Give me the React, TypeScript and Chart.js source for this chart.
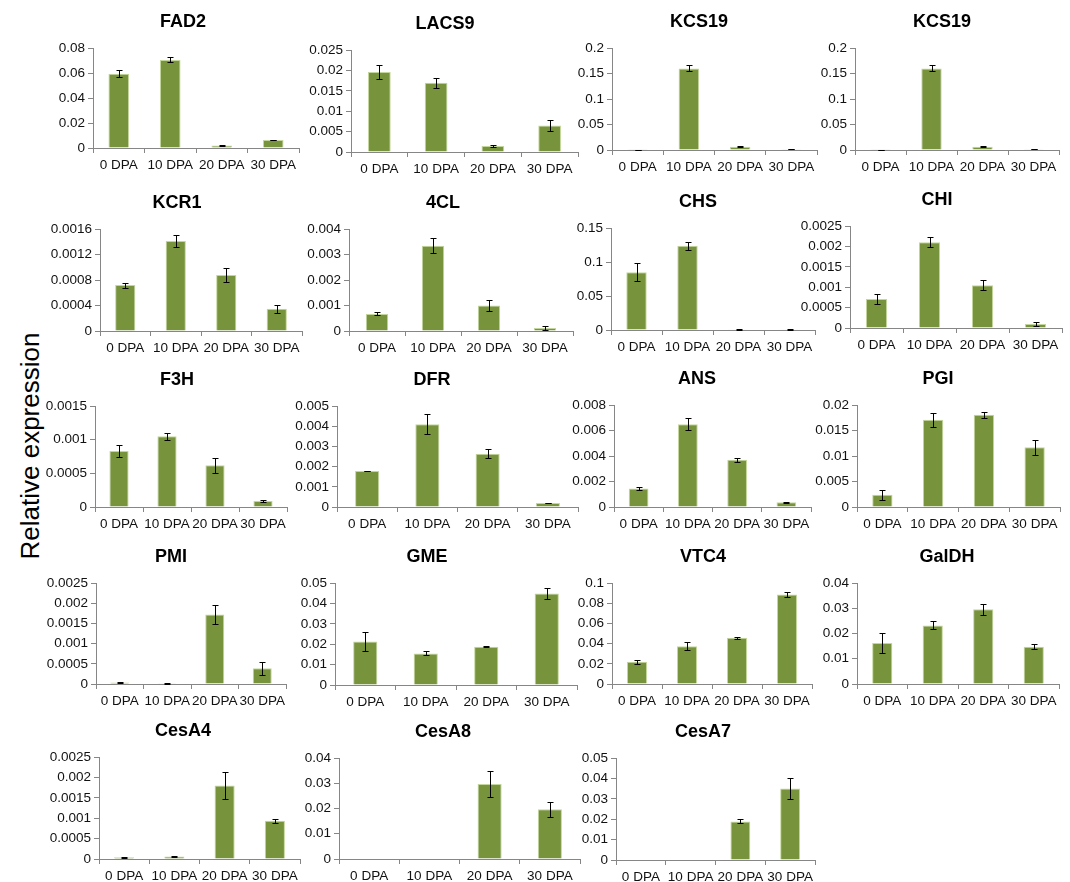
import React, { useEffect, useRef } from "react";
import { Chart, registerables } from "chart.js";

Chart.register(...registerables);
Chart.defaults.font.family = '"Liberation Sans", Arial, sans-serif';

// ---------- DATA ----------
const categories = ["0 DPA", "10 DPA", "20 DPA", "30 DPA"];

const genes = [
  "FAD2", "LACS9", "KCS19", "KCS19",
  "KCR1", "4CL", "CHS", "CHI",
  "F3H", "DFR", "ANS", "PGI",
  "PMI", "GME", "VTC4", "GalDH",
  "CesA4", "CesA8", "CesA7",
];

// mean relative expression per gene (0, 10, 20, 30 DPA)
const meanValues = [
  [0.0595, 0.0705, 0.0021, 0.0064],
  [0.0196, 0.017, 0.0015, 0.0065],
  [0.0003, 0.16, 0.0065, 0.0015],
  [0.0003, 0.16, 0.0065, 0.0015],
  [0.00072, 0.00141, 0.00088, 0.00035],
  [0.00067, 0.00334, 0.001, 0.00012],
  [0.085, 0.124, 0.001, 0.001],
  [0.00071, 0.0021, 0.00105, 0.0001],
  [0.00083, 0.00105, 0.00062, 0.00009],
  [0.00178, 0.0041, 0.00263, 0.0002],
  [0.00145, 0.0065, 0.0037, 0.00038],
  [0.0024, 0.0171, 0.0181, 0.0117],
  [0.00004, 0.00002, 0.00172, 0.00039],
  [0.0213, 0.0155, 0.0188, 0.0449],
  [0.022, 0.0375, 0.0457, 0.0885],
  [0.0162, 0.0232, 0.0296, 0.0148],
  [0.00004, 0.00006, 0.0018, 0.00094],
  [0, 0, 0.0297, 0.0197],
  [0, 0, 0.0189, 0.0351],
];

// error (± SD) per gene
const errValues = [
  [0.003, 0.002, 0.0003, 0.0003],
  [0.0017, 0.0012, 0.0002, 0.0013],
  [0.0002, 0.006, 0.001, 0.0005],
  [0.0002, 0.006, 0.001, 0.0005],
  [0.00004, 0.00009, 0.00011, 0.00006],
  [0.00006, 0.0003, 0.0002, 0.00007],
  [0.013, 0.006, 0.0004, 0.0004],
  [0.00012, 0.00012, 0.00013, 0.00004],
  [0.000085, 0.00005, 0.00011, 0.00001],
  [0.00002, 0.00048, 0.00022, 0.00002],
  [0.00012, 0.00046, 0.00014, 0.00003],
  [0.001, 0.0014, 0.0006, 0.0015],
  [0.00001, 0.00001, 0.00023, 0.00016],
  [0.0047, 0.001, 0.0004, 0.0027],
  [0.0022, 0.0037, 0.0013, 0.0028],
  [0.0039, 0.0016, 0.0022, 0.001],
  [0.00002, 0.00002, 0.00033, 0.00005],
  [0, 0, 0.005, 0.003],
  [0, 0, 0.001, 0.0052],
];

// y axis maximum and tick step per gene
const yMax = [
  0.08, 0.025, 0.2, 0.2,
  0.0016, 0.004, 0.15, 0.0025,
  0.0015, 0.005, 0.008, 0.02,
  0.0025, 0.05, 0.1, 0.04,
  0.0025, 0.04, 0.05,
];
const yStep = [
  0.02, 0.005, 0.05, 0.05,
  0.0004, 0.001, 0.05, 0.0005,
  0.0005, 0.001, 0.002, 0.005,
  0.0005, 0.01, 0.02, 0.01,
  0.0005, 0.01, 0.01,
];

const yAxisTitle = "Relative expression";

// ---------- LAYOUT (plot box: left, right, top, bottom, title centre x) ----------
const plotBoxes = [
  [93, 299, 48, 148, 183],
  [351, 578, 50, 152, 445],
  [612, 817, 48, 150, 699],
  [855, 1059, 48, 150, 942],
  [100, 302, 229, 331, 177],
  [349, 573, 229, 331, 443],
  [611, 815, 228, 330, 698],
  [850, 1062, 226, 328, 937],
  [95, 287, 406, 507, 177],
  [337, 578, 406, 507, 432],
  [614, 811, 405, 507, 697],
  [857, 1060, 405, 507, 938],
  [96, 286, 583, 684, 171],
  [335, 577, 583, 685, 427],
  [612, 812, 583, 684, 703],
  [857, 1059, 583, 684, 947],
  [99, 300, 757, 859, 183],
  [339, 580, 758, 859, 443],
  [616, 815, 758, 860, 703],
];

const PAD_L = 70;
const PAD_T = 45;
const PAD_R = 14;
const PAD_B = 30;

const FONT = '"Liberation Sans", Arial, sans-serif';
const AXIS_COLOR = "#868686";
const BAR_COLOR = "#77933C";
const BAR_EDGE = "#C3D69B";
const TEXT_COLOR = "#111111";

function fmt(v: number): string {
  return parseFloat(v.toFixed(6)).toString();
}

function Panel({ idx }: { idx: number }) {
  const ref = useRef<HTMLCanvasElement>(null);
  const [l, r, t, b, tx] = plotBoxes[idx];
  const w = r - l + PAD_L + PAD_R;
  const h = b - t + PAD_T + PAD_B;

  useEffect(() => {
    if (!ref.current) return;
    const vals = meanValues[idx];
    const errs = errValues[idx];
    const title = genes[idx];

    const errPlugin = {
      id: "errbars" + idx,
      afterDatasetsDraw(chart: any) {
        const meta = chart.getDatasetMeta(0);
        const ys = chart.scales.y;
        const ctx = chart.ctx;
        ctx.save();
        ctx.strokeStyle = "#000";
        ctx.lineWidth = 1;
        meta.data.forEach((bar: any, i: number) => {
          const e = errs[i];
          if (!e) return;
          const v = vals[i];
          const x = Math.round(bar.x) + 0.5;
          const y1 = Math.round(ys.getPixelForValue(v + e)) + 0.5;
          const y2 = Math.round(ys.getPixelForValue(Math.max(v - e, 0))) + 0.5;
          ctx.beginPath();
          ctx.moveTo(x, y1);
          ctx.lineTo(x, y2);
          ctx.moveTo(x - 3, y1);
          ctx.lineTo(x + 3, y1);
          ctx.moveTo(x - 3, y2);
          ctx.lineTo(x + 3, y2);
          ctx.stroke();
        });
        ctx.restore();
      },
    };

    const titlePlugin = {
      id: "ptitle" + idx,
      afterDraw(chart: any) {
        const ctx = chart.ctx;
        ctx.save();
        ctx.font = "bold 18px " + FONT;
        ctx.fillStyle = "#000";
        ctx.textAlign = "center";
        ctx.textBaseline = "middle";
        ctx.fillText(title, tx - (l - PAD_L), PAD_T - 26);
        ctx.restore();
      },
    };

    const chart = new Chart(ref.current, {
      type: "bar",
      data: {
        labels: categories,
        datasets: [
          {
            data: vals,
            backgroundColor: BAR_COLOR,
            borderColor: BAR_EDGE,
            borderWidth: 1,
            barPercentage: 0.4,
            categoryPercentage: 1,
          },
        ],
      },
      options: {
        responsive: false,
        animation: false,
        devicePixelRatio: 1,
        layout: { padding: { left: 0, top: PAD_T, right: PAD_R, bottom: 0 } },
        plugins: {
          legend: { display: false },
          tooltip: { enabled: false },
          title: { display: false },
        },
        scales: {
          x: {
            grid: {
              display: true,
              drawOnChartArea: false,
              drawTicks: true,
              tickLength: 5,
              color: AXIS_COLOR,
              offset: true,
            },
            border: { display: true, color: AXIS_COLOR, width: 1 },
            ticks: {
              color: TEXT_COLOR,
              font: { size: 13.5, family: FONT },
              padding: 4,
              maxRotation: 0,
              minRotation: 0,
              autoSkip: false,
            },
            afterFit: (s: any) => {
              s.height = PAD_B;
            },
          },
          y: {
            min: 0,
            max: yMax[idx],
            grid: {
              display: true,
              drawOnChartArea: false,
              drawTicks: true,
              tickLength: 5,
              color: AXIS_COLOR,
            },
            border: { display: true, color: AXIS_COLOR, width: 1 },
            ticks: {
              stepSize: yStep[idx],
              color: TEXT_COLOR,
              font: { size: 13.5, family: FONT },
              padding: 3,
              callback: (v: any) => fmt(Number(v)),
            },
            afterFit: (s: any) => {
              s.width = PAD_L;
            },
          },
        },
      },
      plugins: [errPlugin, titlePlugin],
    } as any);
    return () => chart.destroy();
  }, [idx]);

  return (
    <canvas
      ref={ref}
      width={w}
      height={h}
      style={{ position: "absolute", left: l - PAD_L, top: t - PAD_T, width: w, height: h }}
    />
  );
}

export default function App() {
  return (
    <div
      style={{
        position: "absolute",
        left: 0,
        top: 0,
        width: 1070,
        height: 882,
        background: "#fff",
        overflow: "hidden",
      }}
    >
      <div
        style={{
          position: "absolute",
          left: 29.5 - 150,
          top: 446 - 15,
          width: 300,
          height: 30,
          lineHeight: "30px",
          fontSize: 26,
          fontFamily: FONT,
          color: "#000",
          textAlign: "center",
          transform: "rotate(-90deg)",
          whiteSpace: "nowrap",
        }}
      >
        {yAxisTitle}
      </div>
      {genes.map((g, i) => (
        <Panel key={i} idx={i} />
      ))}
    </div>
  );
}
